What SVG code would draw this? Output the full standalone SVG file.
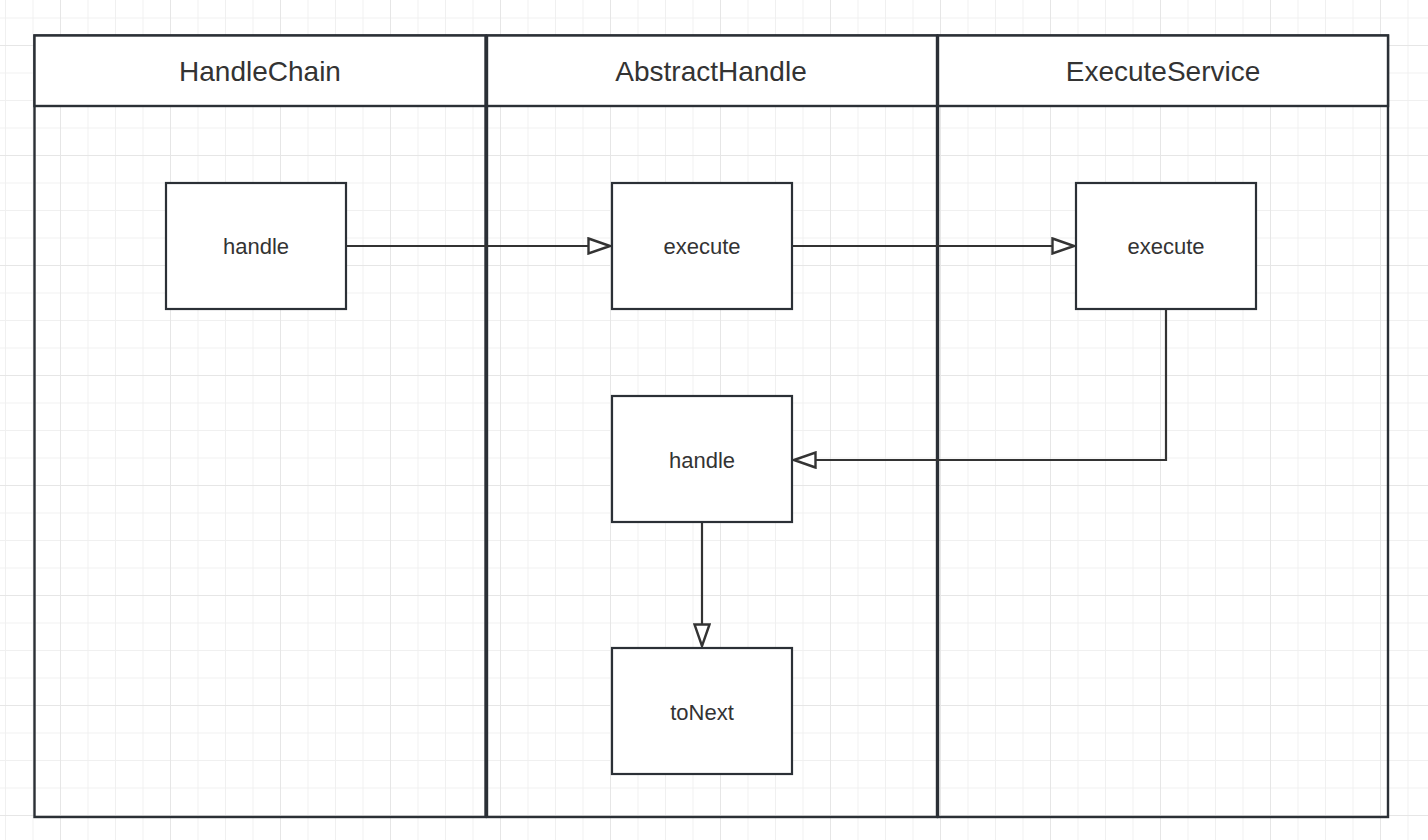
<svg xmlns="http://www.w3.org/2000/svg" width="1428" height="840" viewBox="0 0 1428 840">
<defs>
<pattern id="minor" x="5" y="17.5" width="27.5" height="27.5" patternUnits="userSpaceOnUse">
<path d="M0 0H27.5M0 0V27.5" fill="none" stroke="#f0f0f0" stroke-width="2"/>
</pattern>
<pattern id="major" x="60" y="45" width="110" height="110" patternUnits="userSpaceOnUse">
<path d="M0 0H110M0 0V110" fill="none" stroke="#e6e6e6" stroke-width="2"/>
</pattern>
<marker id="tri" viewBox="0 0 24 18" refX="23" refY="9" markerWidth="24" markerHeight="18" markerUnits="userSpaceOnUse" orient="auto">
<path d="M1.5 1.5L23 9L1.5 16.5Z" fill="#fff" stroke="#333" stroke-width="2.4"/>
</marker>
<style>
.lane{fill:none;stroke:#2b3036;stroke-width:2.4}
.hdr{fill:#fff;stroke:#2b3036;stroke-width:2.4}
.box{fill:#fff;stroke:#2b3036;stroke-width:2.2}
.ht{font-family:"Liberation Sans",Arial,sans-serif;font-size:28px;fill:#333;text-anchor:middle;dominant-baseline:central}
.nt{font-family:"Liberation Sans",Arial,sans-serif;font-size:22px;fill:#333;text-anchor:middle;dominant-baseline:central}
.edge{fill:none;stroke:#333;stroke-width:2.2;marker-end:url(#tri)}
</style>
</defs>
<rect width="1428" height="840" fill="#fff"/>
<rect width="1428" height="840" fill="url(#minor)"/>
<rect width="1428" height="840" fill="url(#major)"/>

<g id="lane-handlechain">
<rect class="lane" x="34.5" y="35.5" width="451" height="781.5"/>
<rect class="hdr" x="34.5" y="35.5" width="451" height="70.5"/>
<text class="ht" x="260" y="71">HandleChain</text>
</g>
<g id="lane-abstracthandle">
<rect class="lane" x="487" y="35.5" width="450" height="781.5"/>
<rect class="hdr" x="487" y="35.5" width="450" height="70.5"/>
<text class="ht" x="711" y="71">AbstractHandle</text>
</g>
<g id="lane-executeservice">
<rect class="lane" x="938" y="35.5" width="450" height="781.5"/>
<rect class="hdr" x="938" y="35.5" width="450" height="70.5"/>
<text class="ht" x="1163" y="71">ExecuteService</text>
</g>

<g id="connectors">
<path class="edge" d="M346 246H610"/>
<path class="edge" d="M792 246H1074"/>
<path class="edge" d="M1166 309V460H794"/>
<path class="edge" d="M702 522V646"/>
</g>

<g id="node-hc-handle">
<rect class="box" x="166" y="183" width="180" height="126"/>
<text class="nt" x="256" y="246">handle</text>
</g>
<g id="node-ah-execute">
<rect class="box" x="612" y="183" width="180" height="126"/>
<text class="nt" x="702" y="246">execute</text>
</g>
<g id="node-es-execute">
<rect class="box" x="1076" y="183" width="180" height="126"/>
<text class="nt" x="1166" y="246">execute</text>
</g>
<g id="node-ah-handle">
<rect class="box" x="612" y="396" width="180" height="126"/>
<text class="nt" x="702" y="460">handle</text>
</g>
<g id="node-ah-tonext">
<rect class="box" x="612" y="648" width="180" height="126"/>
<text class="nt" x="702" y="712">toNext</text>
</g>
</svg>
